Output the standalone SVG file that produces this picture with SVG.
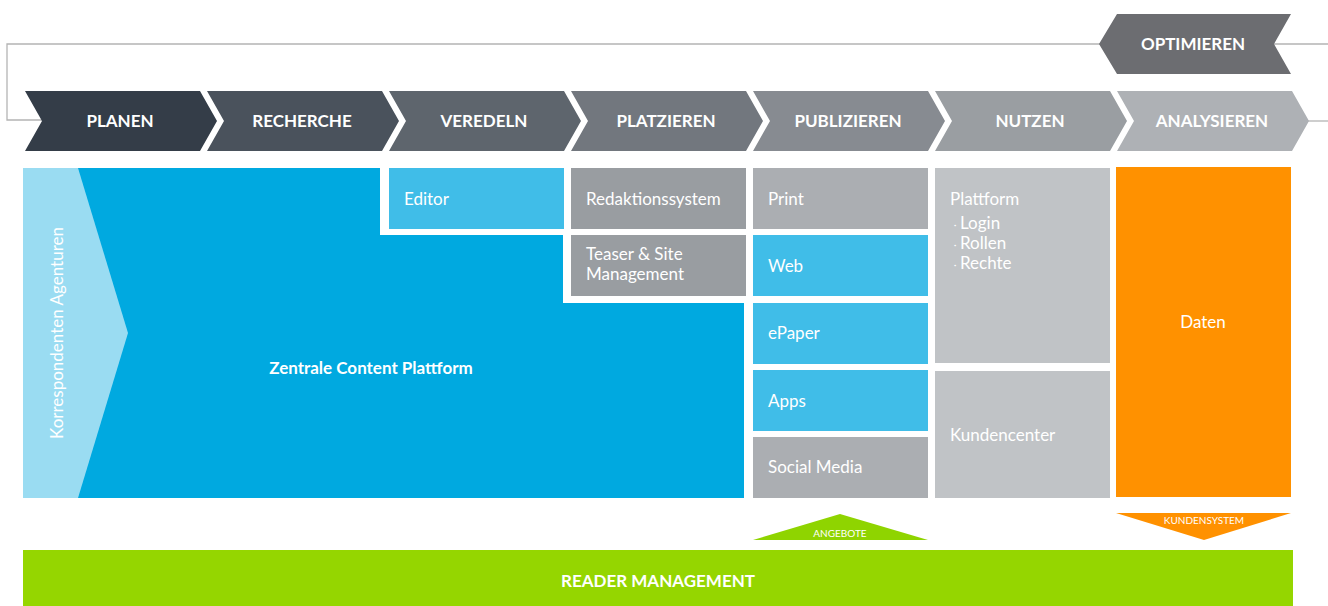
<svg xmlns="http://www.w3.org/2000/svg" width="1328" height="606" viewBox="0 0 1328 606">
<style>
.hd{font-family:Lato,"Liberation Sans",sans-serif;font-weight:bold;font-size:17px;fill:#fff;text-anchor:middle}
.bx{font-family:Lato,"Liberation Sans",sans-serif;font-size:17px;fill:#fff}
.sm{font-family:Lato,"Liberation Sans",sans-serif;font-size:10px;fill:#fff;text-anchor:middle}
.ln{fill:none;stroke:#b4b4b4;stroke-width:1.3}
.g1{fill:#999da1}.g2{fill:#abaeb2}.g3{fill:#c0c3c6}.lb{fill:#40bde8}
</style>
<rect width="1328" height="606" fill="#fff"/>
<g id="connectors">
<polyline class="ln" points="1328,44 7,44 7,120 42,120"/>
<line class="ln" x1="1300" y1="121" x2="1328" y2="121"/>
</g>
<g id="optimieren">
<polygon points="1117,14 1291,14 1274,44 1291,74 1117,74 1099,44" fill="#6c6d71"/>
<text class="hd" x="1193" y="50">OPTIMIEREN</text>
</g>
<g id="planen"><polygon points="25,91 200,91 217,121 200,151 25,151 42,121" fill="#343d48"/><text class="hd" x="120" y="127">PLANEN</text></g>
<g id="recherche"><polygon points="207,91 382,91 399,121 382,151 207,151 224,121" fill="#4a525c"/><text class="hd" x="302" y="127">RECHERCHE</text></g>
<g id="veredeln"><polygon points="389,91 564,91 581,121 564,151 389,151 406,121" fill="#5e656d"/><text class="hd" x="484" y="127">VEREDELN</text></g>
<g id="platzieren"><polygon points="571,91 746,91 763,121 746,151 571,151 588,121" fill="#72777e"/><text class="hd" x="666" y="127">PLATZIEREN</text></g>
<g id="publizieren"><polygon points="753,91 928,91 945,121 928,151 753,151 770,121" fill="#878b91"/><text class="hd" x="848" y="127">PUBLIZIEREN</text></g>
<g id="nutzen"><polygon points="935,91 1110,91 1127,121 1110,151 935,151 952,121" fill="#9a9ea2"/><text class="hd" x="1030" y="127">NUTZEN</text></g>
<g id="analysieren"><polygon points="1117,91 1292,91 1309,121 1292,151 1117,151 1134,121" fill="#aeb1b5"/><text class="hd" x="1212" y="127">ANALYSIEREN</text></g>
<g id="zentrale">
<polygon points="23,168 380,168 380,235 563,235 563,303 744,303 744,498 23,498" fill="#00a9e0"/>
<text class="hd" x="371" y="374">Zentrale Content Plattform</text>
</g>
<g id="korrespondenten">
<polygon points="23,168 78,168 128,333 78,498 23,498" fill="#9adcf2"/>
<text class="bx" transform="translate(63,333) rotate(-90)" text-anchor="middle">Korrespondenten Agenturen</text>
</g>
<g id="editor"><rect class="lb" x="389" y="168" width="175" height="61"/><text class="bx" x="404" y="205">Editor</text></g>
<g id="redaktionssystem"><rect class="g1" x="571" y="168" width="175" height="61"/><text class="bx" x="586" y="205">Redaktionssystem</text></g>
<g id="teaser"><rect class="g1" x="571" y="235" width="175" height="61"/><text class="bx" x="586" y="260">Teaser &amp; Site</text><text class="bx" x="586" y="280">Management</text></g>
<g id="print"><rect class="g2" x="753" y="168" width="175" height="61"/><text class="bx" x="768" y="205">Print</text></g>
<g id="web"><rect class="lb" x="753" y="235" width="175" height="61"/><text class="bx" x="768" y="272">Web</text></g>
<g id="epaper"><rect class="lb" x="753" y="303" width="175" height="61"/><text class="bx" x="768" y="339">ePaper</text></g>
<g id="apps"><rect class="lb" x="753" y="370" width="175" height="61"/><text class="bx" x="768" y="407">Apps</text></g>
<g id="social"><rect class="g2" x="753" y="437" width="175" height="61"/><text class="bx" x="768" y="473">Social Media</text></g>
<g id="plattform"><rect class="g3" x="935" y="168" width="175" height="195"/>
<text class="bx" x="950" y="205">Plattform</text>
<text class="bx" x="950" y="229"><tspan font-size="10">・</tspan>Login</text>
<text class="bx" x="950" y="249"><tspan font-size="10">・</tspan>Rollen</text>
<text class="bx" x="950" y="269"><tspan font-size="10">・</tspan>Rechte</text>
</g>
<g id="kundencenter"><rect class="g3" x="935" y="371" width="175" height="127"/><text class="bx" x="950" y="441">Kundencenter</text></g>
<g id="daten"><rect x="1116" y="167" width="175" height="330" fill="#ff9100"/><text class="bx" x="1203" y="328" text-anchor="middle">Daten</text></g>
<g id="angebote"><polygon points="840,514 928,540 753,540" fill="#8fd400"/><text class="sm" x="840" y="537">ANGEBOTE</text></g>
<g id="kundensystem"><polygon points="1116,513 1291,513 1204,540" fill="#ff9100"/><text class="sm" x="1204" y="524">KUNDENSYSTEM</text></g>
<g id="reader"><rect x="23" y="550" width="1270" height="56" fill="#95d600"/><text class="hd" x="658" y="587">READER MANAGEMENT</text></g>
</svg>
